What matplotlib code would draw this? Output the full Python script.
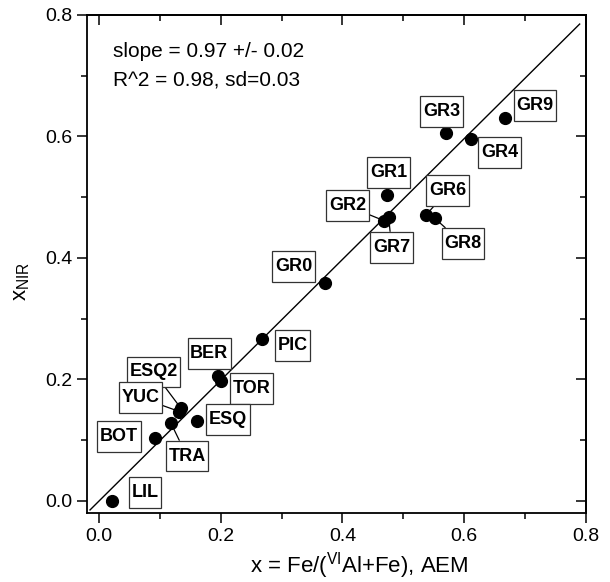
import matplotlib
matplotlib.use("Agg")
import matplotlib.pyplot as plt
from matplotlib.ticker import MultipleLocator
from matplotlib.path import Path

plt.rcParams['font.family'] = ['Liberation Sans', 'DejaVu Sans']
plt.rcParams['mathtext.default'] = 'regular'

# ---- data ----
labels = ['GR9', 'GR3', 'GR4', 'GR1', 'GR2', 'GR7', 'GR6', 'GR8', 'GR0',
          'PIC', 'BER', 'TOR', 'ESQ2', 'YUC', 'ESQ', 'TRA', 'BOT', 'LIL']
x_aem = [0.667, 0.571, 0.612, 0.474, 0.469, 0.476, 0.537, 0.552, 0.371,
         0.267, 0.196, 0.201, 0.134, 0.132, 0.161, 0.118, 0.092, 0.021]
x_nir = [0.631, 0.606, 0.596, 0.503, 0.461, 0.467, 0.470, 0.465, 0.359,
         0.267, 0.206, 0.197, 0.153, 0.147, 0.132, 0.128, 0.103, -0.001]
line_x = [-0.015, 0.79]
line_y = [-0.015, 0.785]
x_ticks = [0.0, 0.2, 0.4, 0.6, 0.8]
y_ticks = [0.0, 0.2, 0.4, 0.6, 0.8]
fit_text = ['slope = 0.97 +/- 0.02', 'R^2 = 0.98, sd=0.03']

# label offsets (pixels, from point to box center) and leader lines
offsets_px = [(30, 12), (-5, 21), (28, -14), (1, 23), (-37, 15), (3, -30),
              (22, 25), (28, -25), (-31, 16), (31, -7), (-9, 22), (30, -7),
              (-27, 36), (-39, 14), (31, 1), (16, -33), (-36, 2), (33, 9)]
leader = ['GR2', 'GR7', 'GR6', 'GR8', 'ESQ2', 'YUC', 'TRA']


def label_box(x0, y0, width, height, mutation_size):
    px = 0.15 * mutation_size
    py = 0.38 * mutation_size
    xa, xb = x0 - px, x0 + width + px
    ya, yb = y0 - py, y0 + height + py
    verts = [(xa, ya), (xb, ya), (xb, yb), (xa, yb), (xa, ya)]
    codes = [Path.MOVETO, Path.LINETO, Path.LINETO, Path.LINETO, Path.CLOSEPOLY]
    return Path(verts, codes)


fig = plt.figure(figsize=(6.10, 5.82), dpi=100)
ax = fig.add_axes([0.1426, 0.1186, 0.8176, 0.8557])

ax.plot(line_x, line_y, color='black', lw=1.0, zorder=2)
ax.plot(x_aem, x_nir, 'o', color='black', ms=8.5, zorder=3)

px2pt = 72 / 100
for lab, xv, yv, (dx, dy) in zip(labels, x_aem, x_nir, offsets_px):
    kw = {}
    if lab in leader:
        kw['arrowprops'] = dict(arrowstyle='-', color='black', lw=0.9,
                                shrinkA=0, shrinkB=3)
    ax.annotate(lab, xy=(xv, yv), xytext=(dx * px2pt, dy * px2pt),
                textcoords='offset points', ha='center', va='center',
                fontsize=13, fontweight='bold', zorder=4,
                bbox=dict(boxstyle=label_box, fc='white',
                          ec='#333333', lw=0.9), **kw)

ax.text(0.052, 0.926, fit_text[0], transform=ax.transAxes, fontsize=15,
        va='center', ha='left')
ax.text(0.052, 0.870, fit_text[1], transform=ax.transAxes, fontsize=15,
        va='center', ha='left')

ax.set_xlim(-0.02, 0.8)
ax.set_ylim(-0.02, 0.8)
ax.set_xticks(x_ticks)
ax.set_yticks(y_ticks)
ax.set_xticklabels([f'{v:.1f}' for v in x_ticks])
ax.set_yticklabels([f'{v:.1f}' for v in y_ticks])
ax.xaxis.set_minor_locator(MultipleLocator(0.1))
ax.yaxis.set_minor_locator(MultipleLocator(0.1))
ax.tick_params(which='major', direction='out', length=7, width=1.1,
               labelsize=14, colors='black')
ax.tick_params(which='minor', direction='out', length=4, width=1.1)
for s in ax.spines.values():
    s.set_linewidth(1.3)

secx = ax.secondary_xaxis('top')
secx.set_xticks(x_ticks)
secx.xaxis.set_minor_locator(MultipleLocator(0.1))
secx.tick_params(which='major', direction='in', length=7, width=1.1, labeltop=False)
secx.tick_params(which='minor', direction='in', length=4, width=1.1)
secy = ax.secondary_yaxis('right')
secy.set_yticks(y_ticks)
secy.yaxis.set_minor_locator(MultipleLocator(0.1))
secy.tick_params(which='major', direction='in', length=7, width=1.1, labelright=False)
secy.tick_params(which='minor', direction='in', length=4, width=1.1)
for sa in (secx, secy):
    for s in sa.spines.values():
        s.set_linewidth(1.3)

ax.set_xlabel(r'x = Fe/($^{VI}$Al+Fe), AEM', fontsize=16)
ax.xaxis.set_label_coords(0.545, -0.074)
ax.set_ylabel(r'x$_{NIR}$', fontsize=16)
ax.yaxis.set_label_coords(-0.11, 0.465)

fig.savefig('out.png', dpi=100)
